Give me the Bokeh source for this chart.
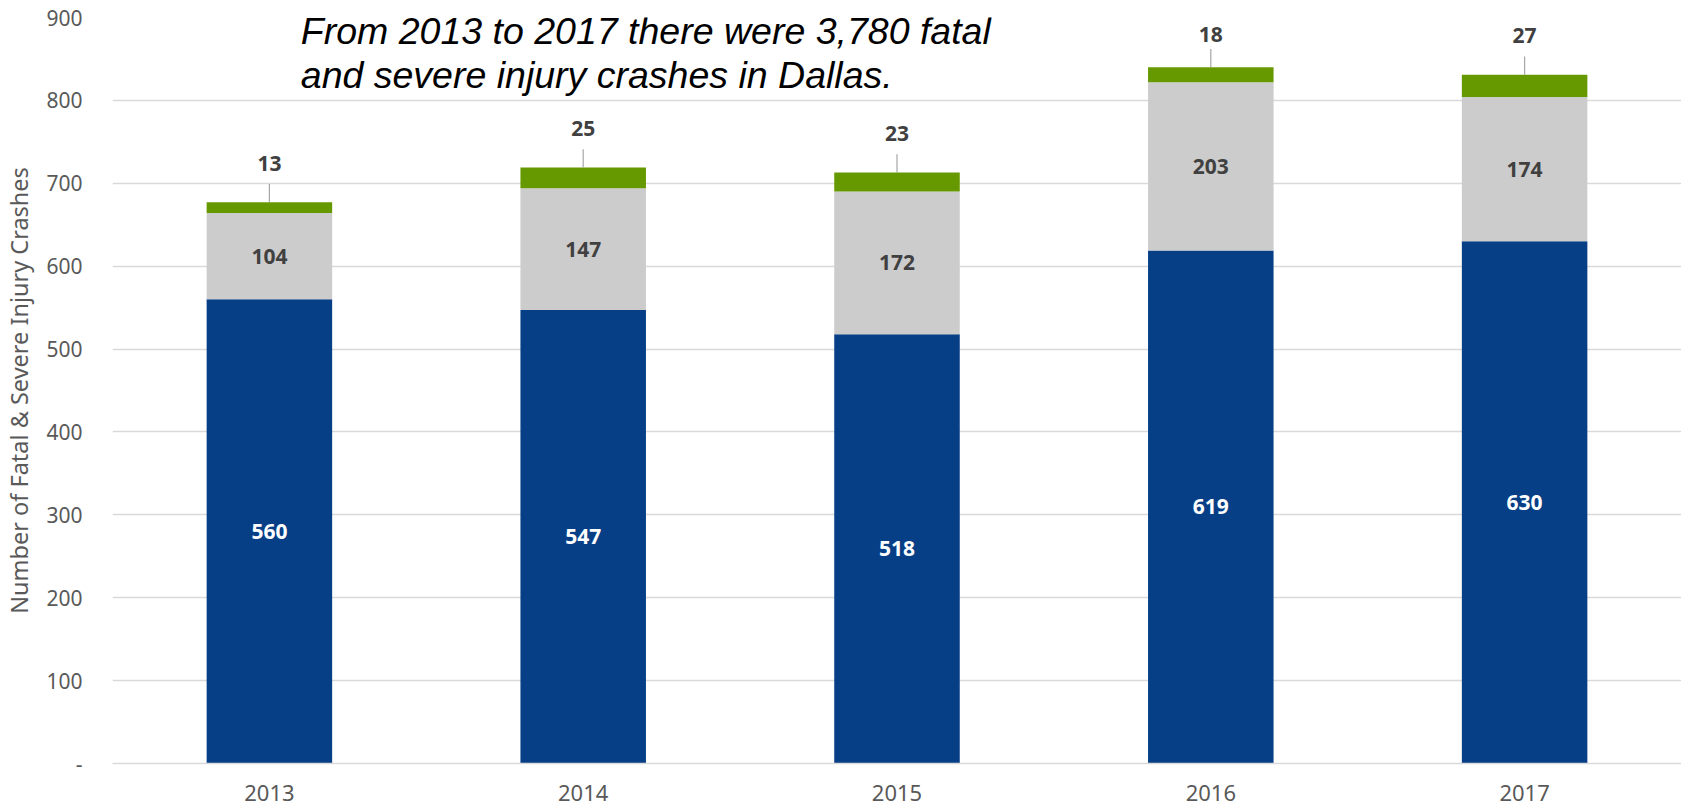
import numpy as np
from bokeh.plotting import figure
from bokeh.models import ColumnDataSource, FixedTicker, Label, Range1d, FactorRange
from bokeh.core.properties import value
from bokeh.embed import file_html
from bokeh.resources import INLINE

years = ["2013", "2014", "2015", "2016", "2017"]
blue_vals = [560, 547, 518, 619, 630]
grey_vals = [104, 147, 172, 203, 174]
green_vals = [13, 25, 23, 18, 27]
y_ticks = [0, 100, 200, 300, 400, 500, 600, 700, 800, 900]
title_lines = ["From 2013 to 2017 there were 3,780 fatal",
               "and severe injury crashes in Dallas."]
y_label = "Number of Fatal & Severe Injury Crashes"

BLUE = "#073F87"
GREY = "#CCCCCC"
GREEN = "#669900"
FONT = "Noto Sans"

b = np.array(blue_vals, dtype=float)
g = np.array(grey_vals, dtype=float)
gr = np.array(green_vals, dtype=float)
tops = b + g + gr

src = ColumnDataSource(dict(
    year=years, blue=blue_vals, grey=grey_vals, green=green_vals,
    blue_mid=b / 2, grey_mid=b + g / 2, top=tops,
    lead_top=tops + 22, lab_y=np.minimum(tops + 47, 880),
    blue_txt=[str(v) for v in blue_vals],
    grey_txt=[str(v) for v in grey_vals],
    green_txt=[str(v) for v in green_vals],
))

p = figure(width=1681, height=806, x_range=FactorRange(*years),
           y_range=Range1d(0, 900), output_backend="svg",
           toolbar_location=None, min_border_left=103, min_border_right=0,
           min_border_top=17, min_border_bottom=43)
p.outline_line_color = None

p.vbar_stack(["blue", "grey", "green"], x="year", width=0.4, source=src,
             color=[BLUE, GREY, GREEN], line_color=None)

p.segment(x0="year", y0="top", x1="year", y1="lead_top", source=src,
          line_color="#A6A6A6", line_width=1.2)

common = dict(text_font=value(FONT), text_font_style="bold",
              text_font_size="21px", text_align="center",
              text_baseline="middle")
p.text(x="year", y="blue_mid", text="blue_txt", source=src,
       text_color="white", **common)
p.text(x="year", y="grey_mid", text="grey_txt", source=src,
       text_color="#404040", **common)
p.text(x="year", y="lab_y", text="green_txt", source=src,
       text_color="#404040", **common)

# axes
p.yaxis.ticker = FixedTicker(ticks=y_ticks)
p.yaxis.major_label_overrides = {0: "-"}
p.yaxis.axis_line_color = None
p.yaxis.major_tick_line_color = None
p.yaxis.minor_tick_line_color = None
p.yaxis.major_label_standoff = 24
p.yaxis.major_label_text_font = FONT
p.yaxis.major_label_text_font_size = "21px"
p.yaxis.major_label_text_color = "#595959"
p.yaxis.axis_label = y_label
p.yaxis.axis_label_text_font = FONT
p.yaxis.axis_label_text_font_size = "23.5px"
p.yaxis.axis_label_text_font_style = "normal"
p.yaxis.axis_label_text_color = "#595959"
p.yaxis.axis_label_standoff = 8

p.xaxis.axis_line_color = "#D9D9D9"
p.xaxis.axis_line_width = 1.5
p.xaxis.major_tick_line_color = None
p.xaxis.minor_tick_line_color = None
p.xaxis.major_label_standoff = 15
p.xaxis.major_label_text_font = FONT
p.xaxis.major_label_text_font_size = "22px"
p.xaxis.major_label_text_color = "#595959"

p.xgrid.grid_line_color = None
p.ygrid.grid_line_color = "#D9D9D9"
p.ygrid.grid_line_width = 1.5

for txt, yy in zip(title_lines, [884.3, 831.2]):
    p.add_layout(Label(x=0.6, y=yy, text=txt, text_font="Liberation Sans",
                       text_font_style="italic", text_font_size="37.5px",
                       text_color="black", text_baseline="alphabetic"))

open("out.html", "w").write(file_html(p, INLINE))
